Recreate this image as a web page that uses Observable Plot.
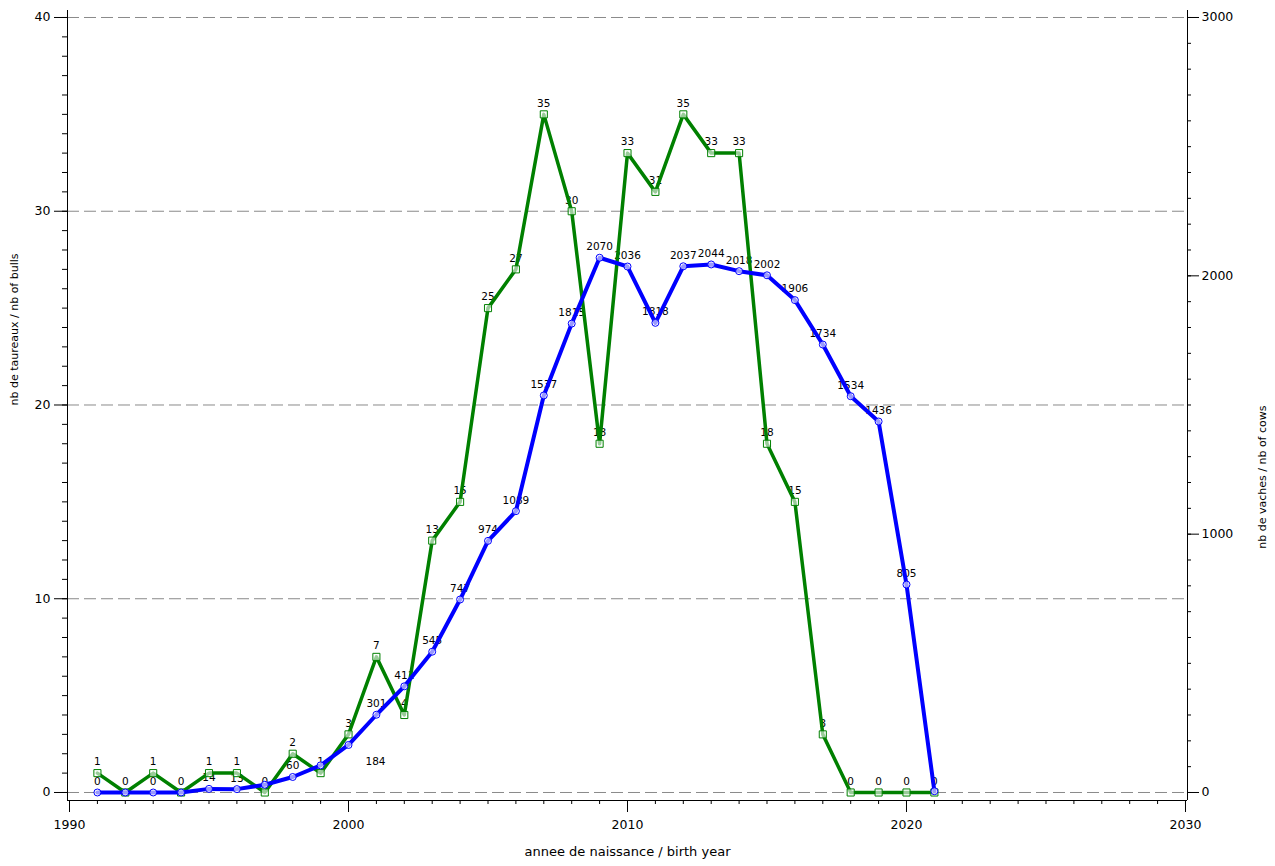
<!DOCTYPE html>
<html><head><meta charset="utf-8">
<script src="https://cdn.jsdelivr.net/npm/d3@7"></script>
<script src="https://cdn.jsdelivr.net/npm/@observablehq/plot@0.6"></script>
<style>body{margin:0;background:#fff;} svg{display:block}</style>
</head><body><div id="chart"></div>
<script>
const years = [1991,1992,1993,1994,1995,1996,1997,1998,1999,2000,2001,2002,2003,2004,2005,2006,2007,2008,2009,2010,2011,2012,2013,2014,2015,2016,2017,2018,2019,2020,2021];
const bulls = [1,0,1,0,1,1,0,2,1,3,7,4,13,15,25,27,35,30,18,33,31,35,33,33,18,15,3,0,0,0,0];
const cows  = [0,0,0,0,14,13,30,60,105,184,301,411,545,747,974,1089,1537,1815,2070,2036,1818,2037,2044,2018,2002,1906,1734,1534,1436,805,5];
const bullTicks = [0,10,20,30,40];
const cowTicks = [0,1000,2000,3000];
const yearTicks = [1990,2000,2010,2020,2030];
const hiddenCowLabels = [1992,1994,1997,1999,2021];
const shiftedCowLabels = [2000];

const data = years.map((year,i)=>({year, bulls: bulls[i], cows: cows[i]}));
const K = 3000/40;
const xDom = [1989.928, 2030.072];
const yDom = [-0.413, 40.361];
const cy = d => d.cows / K;

const chart = Plot.plot({
  width: 1275, height: 866,
  marginLeft: 67, marginRight: 88, marginTop: 10, marginBottom: 66,
  style: {fontFamily: "DejaVu Sans", fontSize: "12px", color: "black", background: "white"},
  x: {domain: xDom}, y: {domain: yDom},
  marks: [
    Plot.ruleY(bullTicks, {stroke: "#8a8a8a", strokeDasharray: "12,5", strokeWidth: 1}),
    Plot.ruleX([xDom[0], xDom[1]], {stroke: "black", strokeWidth: 1}),
    Plot.ruleY([yDom[0]], {stroke: "black", strokeWidth: 1}),
    Plot.axisY({anchor: "left", ticks: bullTicks, tickSize: 13, tickPadding: 4, label: null, fontSize: 12.5}),
    Plot.axisY({anchor: "left", ticks: d3.range(0, 41, 1), tickSize: 5, tickFormat: () => "", label: null}),
    Plot.axisY({anchor: "right", ticks: cowTicks.map(v => v / K), tickFormat: d => String(Math.round(d * K)), tickSize: 11, tickPadding: 3, label: null, fontSize: 12.5}),
    Plot.axisY({anchor: "right", ticks: d3.range(0, 3001, 100).map(v => v / K), tickSize: 3, tickFormat: () => "", label: null}),
    Plot.axisX({anchor: "bottom", ticks: yearTicks, tickSize: 12, tickPadding: 8, tickFormat: "d", label: null, fontSize: 12.5}),
    Plot.axisX({anchor: "bottom", ticks: d3.range(1990, 2031, 1), tickSize: 4, tickFormat: () => "", label: null}),
    Plot.text(data, {x: "year", y: "bulls", text: d => String(d.bulls), dy: -11, fontSize: 10.5, fill: "black"}),
    Plot.text(data.filter(d => !hiddenCowLabels.includes(d.year) && !shiftedCowLabels.includes(d.year)),
      {x: "year", y: cy, text: d => String(d.cows), dy: -11, fontSize: 10.5, fill: "black"}),
    Plot.text(data.filter(d => shiftedCowLabels.includes(d.year)),
      {x: "year", y: cy, text: d => String(d.cows), dx: 27, dy: 17, fontSize: 10.5, fill: "black"}),
    Plot.line(data, {x: "year", y: "bulls", stroke: "#008000", strokeWidth: 3.5}),
    Plot.dot(data, {x: "year", y: "bulls", symbol: "square", r: 4, stroke: "#008000", strokeWidth: 1, fill: "white", fillOpacity: 0.6}),
    Plot.line(data, {x: "year", y: cy, stroke: "#0000ff", strokeWidth: 4}),
    Plot.dot(data, {x: "year", y: cy, symbol: "circle", r: 3.5, stroke: "#0000ff", strokeWidth: 1, fill: "white", fillOpacity: 0.6}),
    Plot.text(["nb de taureaux / nb of bulls"], {text: d => d, frameAnchor: "left", dx: -53, rotate: -90, fontSize: 11}),
    Plot.text(["nb de vaches / nb of cows"], {text: d => d, frameAnchor: "right", dx: 75, rotate: -90, fontSize: 11}),
    Plot.text(["annee de naissance / birth year"], {text: d => d, frameAnchor: "bottom", dy: 55, fontSize: 13})
  ]
});
document.getElementById("chart").appendChild(chart);
</script>
</body></html>
